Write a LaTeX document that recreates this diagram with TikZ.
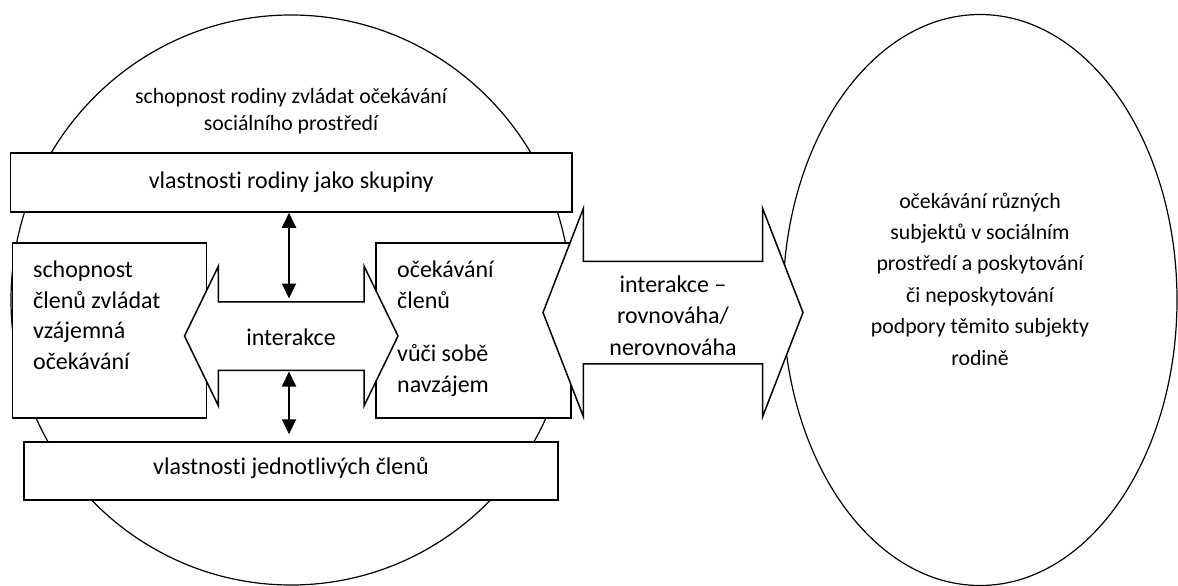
\documentclass[tikz,border=0pt]{standalone}
\usepackage{fontspec}
\setmainfont[Ligatures=NoCommon]{Carlito}
\usetikzlibrary{shapes.geometric,shapes.arrows,arrows.meta}
\pgfdeclarelayer{bg}
\pgfsetlayers{bg,main}
\tikzset{
    every node/.style={inner sep=0mm, font=\fontsize{24}{31}\selectfont}
}
\tikzset{
    oval/.style={ellipse, draw, line width=1.2pt},
    box/.style={rectangle, draw, fill=white, line width=1.5pt},
    dblarrow/.style={double arrow, draw, fill=white, line width=1.5pt},
    updown/.style={{Triangle[length=15pt,width=14pt]}-{Triangle[length=15pt,width=14pt]}, line width=2pt}
}

\begin{document}
\begin{tikzpicture}[x=1pt, y=-1pt]
        \useasboundingbox (0,0) rectangle (1178,586);
        \begin{pgfonlayer}{bg}
                \node (fam) [oval, minimum width=560pt, minimum height=570pt] at (291, 300) {};
                \node (env) [oval, minimum width=394pt, minimum height=571pt] at (980, 300) {};
        \end{pgfonlayer}
        \node (cap) [text width=380pt, align=flush center, anchor=base, font=\fontsize{21.8}{26.7}\selectfont] at (291, 103.5) {schopnost rodiny zvládat očekávání\\sociálního prostředí};
        \node (grp) [box, minimum width=561.5pt, minimum height=59pt, text height=16pt, text depth=5pt] at (291.25, 182.5) {vlastnosti rodiny jako skupiny};
        \node (mem) [box, minimum width=534pt, minimum height=58pt, text height=13pt, text depth=7pt] at (291, 471) {vlastnosti jednotlivých členů};
        \node (lbox) [box, minimum width=194pt, minimum height=175pt] at (109.5, 330.5) {};
        \node (rbox) [box, minimum width=195pt, minimum height=175pt] at (473.5, 330.5) {};
        \node (iact) [dblarrow, minimum height=213.5pt, double arrow head extend=35.5pt, double arrow tip angle=128.2, text height=33.5pt, text depth=33.5pt] at (291.25, 336) {};
        \node (bal) [dblarrow, minimum height=260pt, double arrow head extend=52.75pt, double arrow tip angle=137.6, text height=50.5pt, text depth=50.5pt] at (673, 312.5) {};
        \node (ltx) [text width=170pt, align=flush left, anchor=base west, font=\fontsize{24}{30.5}\selectfont] at (33, 277.5) {schopnost\\členů zvládat\\vzájemná\\očekávání};
        \node (rtx) [text width=170pt, align=flush left, anchor=base west] at (397, 277) {očekávání\\členů\\[22.5pt]vůči sobě\\navzájem};
        \node (itx) [anchor=base] at (291, 345.5) {interakce};
        \node (btx) [text width=170pt, align=flush center, anchor=base, font=\fontsize{24}{31.5}\selectfont] at (673, 292) {interakce –\\rovnováha/\\nerovnováha};
        \node (etx) [text width=330pt, align=flush center, anchor=base, font=\fontsize{21.8}{31.4}\selectfont] at (980, 208) {očekávání různých\\subjektů v sociálním\\prostředí a poskytování\\či neposkytování\\podpory těmito subjekty\\rodině};
        \coordinate (ia) at (289, 302.5);
        \coordinate (ib) at (289, 369.5);
        \draw (ia |- grp.south) edge [updown, shorten >=4pt] (ia);
        \draw (ib) edge [updown, shorten <=2pt, shorten >=7pt] (ib |- mem.north);
\end{tikzpicture}
\end{document}
